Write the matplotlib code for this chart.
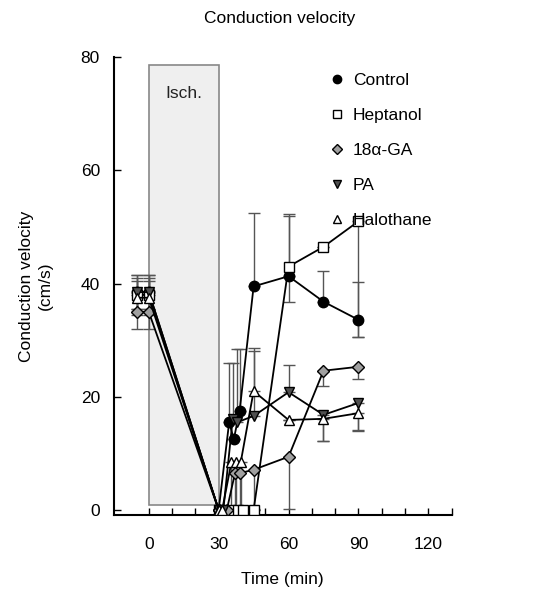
import matplotlib
matplotlib.use("Agg")
import matplotlib.pyplot as plt
from matplotlib.patches import Rectangle

plt.rcParams['font.family'] = ['Liberation Sans', 'DejaVu Sans']

# values (time in min, velocity in cm/s)
ctrl_t = [-5, 0, 30, 34.5, 36.5, 39, 45, 60, 75, 90]
ctrl_v = [38.5, 38.5, 0, 15.5, 12.5, 17.5, 39.5, 41.3, 36.8, 33.6]
ctrl_up = [3, 3, 0, 10.5, 0, 11, 13, 11, 5.5, 6.7]
ctrl_dn = [3, 3, 0, 0, 0, 0, 0, 0, 0, 3]

hept_t = [-5, 0, 30, 35, 38.5, 40.5, 45, 60, 75, 90]
hept_v = [38, 38, 0, 0, 0, 0, 0, 43, 46.5, 51]
hept_up = [3, 3, 0, 0, 0, 0, 0, 9, 0, 0]
hept_dn = [3, 3, 0, 0, 0, 0, 0, 6.2, 0, 20.5]

ga_t = [-5, 0, 30, 33.5, 37, 39, 45, 60, 75, 90]
ga_v = [35, 35, 0, 0, 6.5, 6.5, 7.1, 9.4, 24.6, 25.3]
ga_up = [3, 3, 0, 0, 0, 0, 0, 0, 0, 0]
ga_dn = [3, 3, 0, 0, 6.5, 6.5, 7, 9.2, 2.7, 2.2]

pa_t = [-5, 0, 30, 32, 36, 38, 45, 60, 75, 90]
pa_v = [38.5, 38.5, 0, 0, 16, 15.5, 16.6, 20.8, 16.8, 18.9]
pa_up = [3, 3, 0, 0, 10, 13, 12, 4.8, 0, 0]
pa_dn = [3, 3, 0, 0, 0, 0, 0, 0, 4.7, 5]

hal_t = [-5, 0, 30, 31.5, 35.5, 37.5, 39.5, 45, 60, 75, 90]
hal_v = [37.5, 37.5, 0, 0, 8.5, 8.5, 8.5, 21, 15.9, 16.1, 17.1]
hal_up = [3, 3, 0, 0, 0, 0, 0, 7, 0, 0, 0]
hal_dn = [3, 3, 0, 0, 8.5, 8.5, 8.5, 0, 0, 4, 3]

isch_start, isch_end, isch_top = 0, 30, 78.6

fig = plt.figure(figsize=(5.37, 5.93), dpi=100)
ax = fig.add_axes([0.212, 0.1315, 0.629, 0.772])

ax.add_patch(Rectangle((isch_start, 0.9), isch_end - isch_start, isch_top - 0.9,
                       facecolor='#efefef', edgecolor='#888888', lw=1.2, zorder=1))
ax.text((isch_start + isch_end) / 2, 73.6, 'Isch.', ha='center', va='center',
        fontsize=12.5, color='#222222', zorder=2)

series = [
    (ctrl_t, ctrl_v, ctrl_dn, ctrl_up, 'o', 'black', 'Control'),
    (hept_t, hept_v, hept_dn, hept_up, 's', 'white', 'Heptanol'),
    (ga_t, ga_v, ga_dn, ga_up, 'D', '#a0a0a0', '18\u03b1-GA'),
    (pa_t, pa_v, pa_dn, pa_up, 'v', '#505050', 'PA'),
    (hal_t, hal_v, hal_dn, hal_up, '^', 'white', 'Halothane'),
]

for t, v, dn, up, m, fc, lab in series:
    ax.errorbar(t, v, yerr=[dn, up], fmt='none', ecolor='#555555', elinewidth=1,
                capsize=4, capthick=1, zorder=3)
    ms = 6 if m == 'D' else 7.5
    ax.plot(t, v, color='black', lw=1.3, marker=m, ms=ms, mfc=fc, mec='black',
            mew=1, zorder=4, label=lab)

ax.set_xlim(-15, 130)
ax.set_ylim(-0.9, 80)
ax.set_xticks(range(0, 131, 10))
ax.set_xticklabels(['0' if x == 0 else (str(x) if x % 30 == 0 else '') for x in range(0, 131, 10)])
ax.set_yticks([0, 20, 40, 60, 80])
ax.tick_params(direction='in', length=5, width=1, labelsize=12.5)
ax.tick_params(axis='x', pad=16)
ax.tick_params(axis='y', pad=10)
ax.spines['top'].set_visible(False)
ax.spines['right'].set_visible(False)
ax.spines['left'].set_linewidth(1.5)
ax.spines['bottom'].set_linewidth(1.5)

ax.set_xlabel('Time (min)', fontsize=12.5, labelpad=14)
ax.set_ylabel('Conduction velocity\n(cm/s)', fontsize=12.5, labelpad=20, linespacing=1.3)
fig.text(0.52, 0.968, 'Conduction velocity', ha='center', va='center', fontsize=12.5)

leg = ax.legend(loc='upper left', bbox_to_anchor=(0.6, 1.0), frameon=False,
                fontsize=12.5, handlelength=0.6, handletextpad=0.6,
                labelspacing=1.15, markerscale=0.8)
for h in leg.legend_handles:
    h.set_linestyle('none')

fig.savefig('out.png', dpi=100)
